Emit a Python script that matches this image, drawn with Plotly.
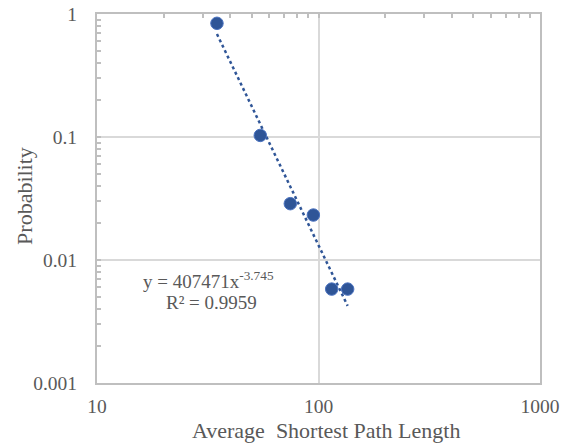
import plotly.graph_objects as go

# Data
path_length = [34.8, 54.6, 74.6, 94.8, 114.7, 135.4]
probability = [0.84, 0.103, 0.0287, 0.0232, 0.0058, 0.0058]

# Power trendline as printed on the chart: y = A * x^B
trend_a = 407471
trend_b = -3.745
trend_r2 = 0.9959

x_ticks = [10, 100, 1000]
x_tick_text = ["10", "100", "1000"]
y_ticks = [0.001, 0.01, 0.1, 1]
y_tick_text = ["0.001", "0.01", "0.1", "1"]
x_minor = [m * d for d in (10, 100) for m in range(2, 10)]
y_minor = [m * d for d in (0.001, 0.01, 0.1) for m in range(2, 10)]

x_title = "Average\u00a0 Shortest Path Length"
y_title = "Probability"

FONT = "Liberation Serif, Times New Roman, serif"
TXT = "#595959"
GRID = "#d9d9d9"
AXIS = "#bfbfbf"
BLUE = "#2f5597"

trend_x = [min(path_length), max(path_length)]
trend_y = [trend_a * v ** trend_b for v in trend_x]

fig = go.Figure()
fig.add_trace(go.Scatter(
    x=trend_x, y=trend_y, mode="lines",
    line=dict(color=BLUE, width=2.5, dash="dot"),
    hoverinfo="skip", showlegend=False))
fig.add_trace(go.Scatter(
    x=path_length, y=probability, mode="markers",
    marker=dict(color=BLUE, size=12.5, line=dict(color="#4a72c0", width=1)),
    showlegend=False))
# invisible trace to anchor the top tick axis
fig.add_trace(go.Scatter(x=trend_x, y=trend_y, xaxis="x2", mode="lines",
                         line=dict(width=0), opacity=0, hoverinfo="skip",
                         showlegend=False))

fig.update_layout(
    width=563, height=443,
    margin=dict(l=97, r=23, t=14, b=60, autoexpand=False),
    paper_bgcolor="white", plot_bgcolor="white",
    font=dict(family=FONT, color=TXT, size=20),
    xaxis=dict(
        type="log", range=[1, 3], automargin=False,
        tickvals=x_ticks, ticktext=x_tick_text,
        showgrid=True, gridcolor=GRID, gridwidth=2,
        showline=True, linecolor=AXIS, linewidth=2, mirror=True,
        ticks="", ticklabelstandoff=5,
        tickfont=dict(size=19.5, color=TXT, family=FONT),
        zeroline=False,
    ),
    xaxis2=dict(
        type="log", range=[1, 3], overlaying="x", side="top", anchor="y",
        automargin=False,
        showgrid=False, showticklabels=False, showline=False,
        tickvals=x_ticks, ticks="inside", ticklen=4, tickcolor=AXIS, tickwidth=1.5,
        minor=dict(tickvals=x_minor, ticks="inside", ticklen=4, tickcolor=AXIS,
                   tickwidth=1.5, showgrid=False),
    ),
    yaxis=dict(
        type="log", range=[-3, 0], automargin=False,
        tickvals=y_ticks, ticktext=y_tick_text,
        showgrid=True, gridcolor=GRID, gridwidth=2,
        showline=True, linecolor=AXIS, linewidth=2, mirror=True,
        ticks="inside", ticklen=4, tickcolor=AXIS, tickwidth=1.5,
        minor=dict(tickvals=y_minor, ticks="inside", ticklen=4, tickcolor=AXIS,
                   tickwidth=1.5, showgrid=False),
        ticklabelstandoff=14,
        tickfont=dict(size=19.5, color=TXT, family=FONT),
        zeroline=False,
    ),
    annotations=[
        dict(x=0.517, y=-0.128, xref="paper", yref="paper",
             xanchor="center", yanchor="middle", text=x_title, showarrow=False,
             font=dict(size=22, color=TXT, family=FONT)),
        dict(x=-0.1625, y=0.507, xref="paper", yref="paper", textangle=-90,
             xanchor="center", yanchor="middle", text=y_title, showarrow=False,
             font=dict(size=22, color=TXT, family=FONT)),
        dict(x=1.503, y=-2.165, xref="x", yref="y",
             text=f"y = {trend_a}x<sup>{trend_b}</sup>",
             showarrow=False, font=dict(size=19, color=TXT, family=FONT)),
        dict(x=1.515, y=-2.345, xref="x", yref="y",
             text=f"R² = {trend_r2}",
             showarrow=False, font=dict(size=19, color=TXT, family=FONT)),
    ],
)

fig.write_html("out.html")
